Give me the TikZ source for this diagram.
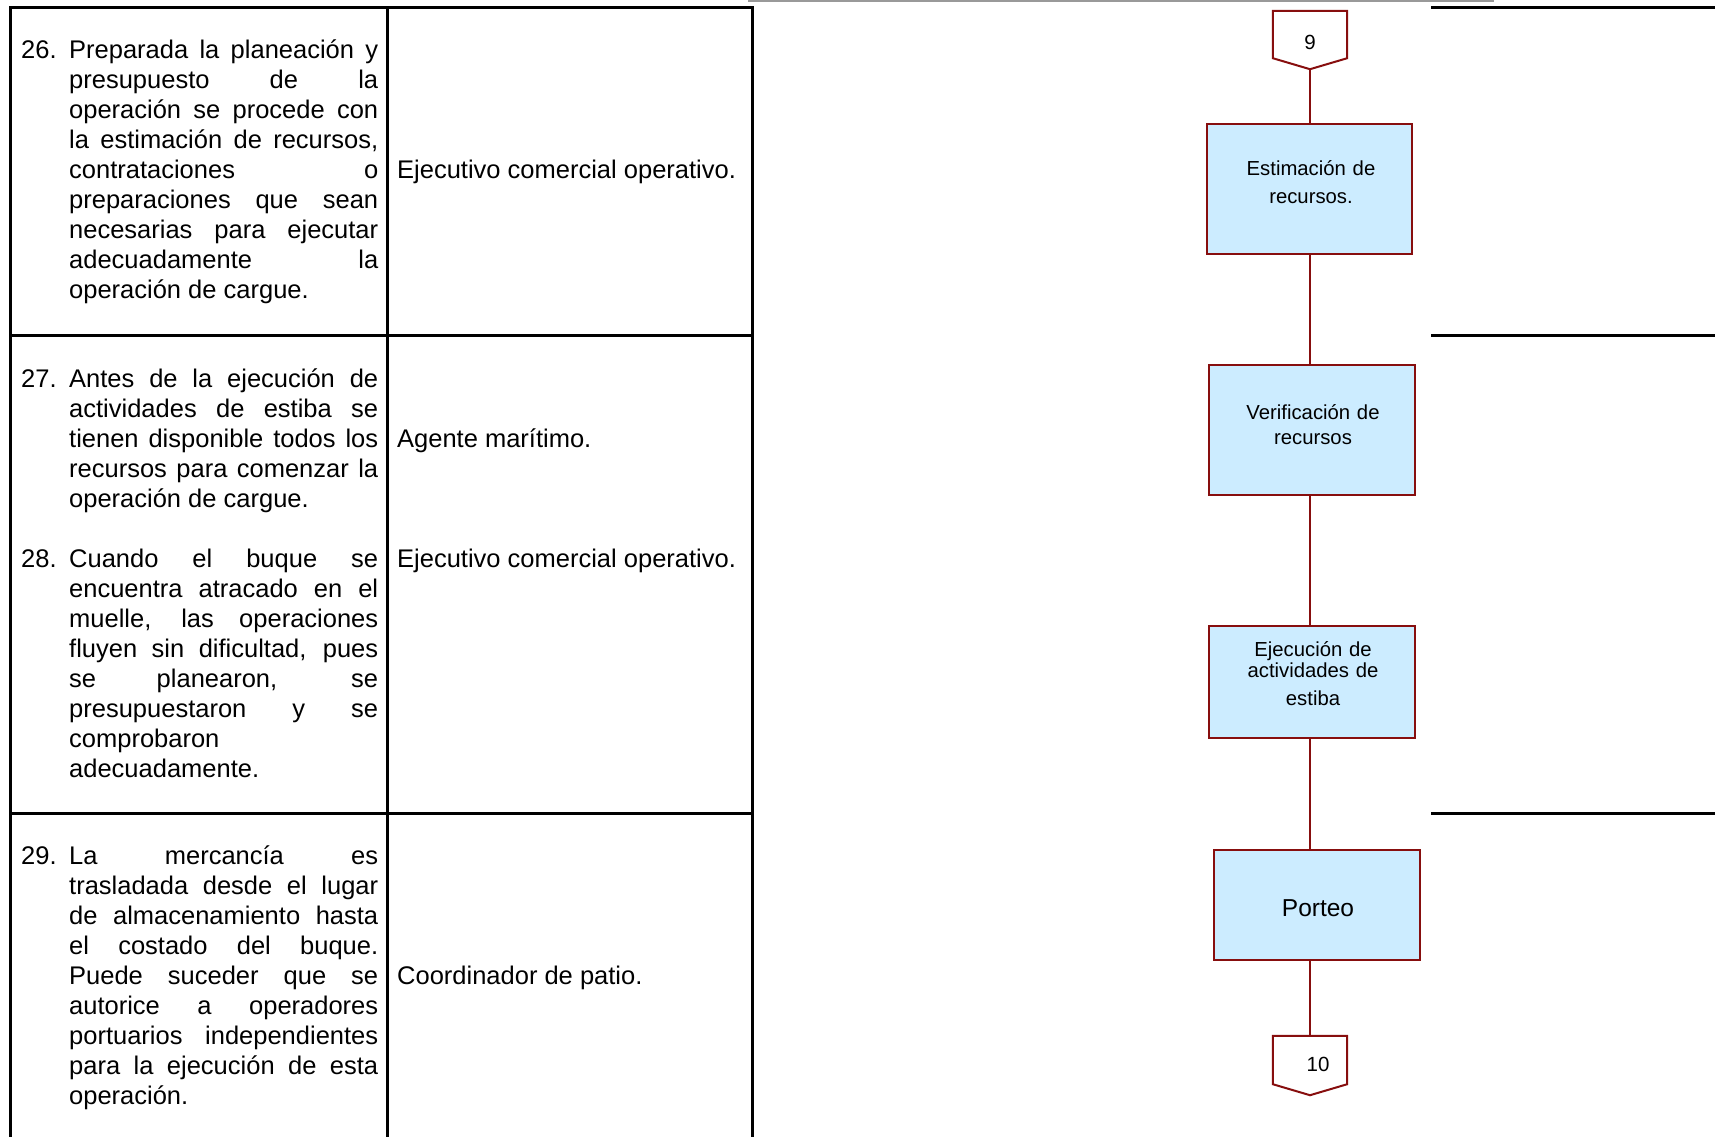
\documentclass[tikz,border=0pt]{standalone}
\usepackage{fontspec}
\setmainfont{Liberation Sans}
\tolerance=10000
\hyphenpenalty=10000
\exhyphenpenalty=10000
\hbadness=10000
\hfuzz=30pt
\definecolor{flowred}{RGB}{135,14,14}
\definecolor{flowfill}{RGB}{204,236,255}
\begin{document}
\begin{tikzpicture}[x=1pt,y=-1pt,
  tablerule/.style={line width=3pt,black,line cap=rect},
  item/.style={anchor=base west,text width=357pt,align=justify,inner sep=0pt,font=\fontsize{25.5}{30}\selectfont},
  who/.style={anchor=base west,inner sep=0pt,font=\fontsize{25.5}{30}\selectfont},
  procbox/.style={draw=flowred,fill=flowfill,line width=2pt,inner sep=0pt},
  conbox/.style={inner sep=0pt,minimum width=74pt},
  flow/.style={draw=flowred,line width=2pt},
  boxtext/.style={anchor=base,text width=200pt,align=center,inner sep=0pt,font=\fontsize{20.3}{21}\selectfont},
  numtext/.style={anchor=base,inner sep=0pt,font=\fontsize{20.5}{21}\selectfont}]
\useasboundingbox (0,0) rectangle (1715,1136);

% table
\draw[tablerule] (10,1140) -- (10,7) -- (752,7) -- (752,1140);
\draw[tablerule] (387,7) -- (387,1140);
\draw[tablerule] (10,335) -- (752,335);
\draw[tablerule] (10,813) -- (752,813);
\draw[gray!80,line width=2pt] (748,1) -- (1494,1);
\draw[tablerule] (1432,7) -- (1715,7);
\draw[tablerule] (1432,335) -- (1715,335);
\draw[tablerule] (1432,813) -- (1715,813);

\node[item] (i26) at (21,58) {{\hangindent=48pt\hangafter=1\makebox[48pt][l]{26.}Preparada la planeación y\linebreak presupuesto de la\linebreak operación se procede con\linebreak la estimación de recursos,\linebreak contrataciones o\linebreak preparaciones que sean\linebreak necesarias para ejecutar\linebreak adecuadamente la\linebreak operación de cargue.\par}};
\node[item] (i27) at (21,387) {{\hangindent=48pt\hangafter=1\makebox[48pt][l]{27.}Antes de la ejecución de\linebreak actividades de estiba se\linebreak tienen disponible todos los\linebreak recursos para comenzar la\linebreak operación de cargue.\par}};
\node[item] (i28) at (21,567) {{\hangindent=48pt\hangafter=1\makebox[48pt][l]{28.}Cuando el buque se\linebreak encuentra atracado en el\linebreak muelle, las operaciones\linebreak fluyen sin dificultad, pues\linebreak se planearon, se\linebreak presupuestaron y se\linebreak comprobaron\newline adecuadamente.\par}};
\node[item] (i29) at (21,864) {{\hangindent=48pt\hangafter=1\makebox[48pt][l]{29.}La mercancía es\linebreak trasladada desde el lugar\linebreak de almacenamiento hasta\linebreak el costado del buque.\linebreak Puede suceder que se\linebreak autorice a operadores\linebreak portuarios independientes\linebreak para la ejecución de esta\linebreak operación.\par}};

\node[who] (r26) at (397,178) {Ejecutivo comercial operativo.};
\node[who] (r27) at (397,447) {Agente marítimo.};
\node[who] (r28) at (397,567) {Ejecutivo comercial operativo.};
\node[who] (r29) at (397,984) {Coordinador de patio.};

% flowchart
\coordinate (spine) at (1310,0);
\node[conbox,minimum height=47pt] (c9) at (1310,34.5) {};
\draw[flow] (c9.north west) -- (c9.north east) -- (c9.south east) -- ([yshift=-11pt]c9.south) -- (c9.south west) -- cycle;
\node[numtext] (t9) at (1310,49) {9};

\node[procbox,minimum width=205pt,minimum height=130pt] (b1) at (1309,189) {};
\node[boxtext] (l1) at (1311,175) {Estimación de\\[7pt]recursos.};

\node[procbox,minimum width=206pt,minimum height=130pt] (b2) at (1312,430) {};
\node[boxtext] (l2) at (1313,419) {Verificación de\\[4pt]recursos};

\node[procbox,minimum width=206pt,minimum height=112pt] (b3) at (1312,682) {};
\node[boxtext] (l3) at (1313,656) {Ejecución de\\actividades de\\[7pt]estiba};

\node[procbox,minimum width=206pt,minimum height=110pt] (b4) at (1317,905) {};
\node[numtext,font=\fontsize{24.5}{26}\selectfont] (l4) at (1318,916) {Porteo};

\node[conbox,minimum height=48pt] (c10) at (1310,1060) {};
\draw[flow] (c10.north west) -- (c10.north east) -- (c10.south east) -- ([yshift=-11pt]c10.south) -- (c10.south west) -- cycle;
\node[numtext] (t10) at (1318,1071) {10};

\draw[flow] ([yshift=-11pt]c9.south) -- (b1.north -| spine);
\draw[flow] (b1.south -| spine) -- (b2.north -| spine);
\draw[flow] (b2.south -| spine) -- (b3.north -| spine);
\draw[flow] (b3.south -| spine) -- (b4.north -| spine);
\draw[flow] (b4.south -| spine) -- (c10.north);
\end{tikzpicture}
\end{document}
